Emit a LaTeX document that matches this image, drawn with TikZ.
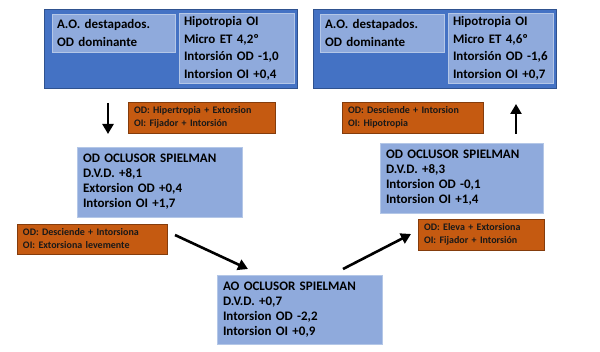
\documentclass[tikz,border=0pt]{standalone}
\usepackage{fontspec}
\setmainfont{Carlito}
\definecolor{AzulOscuro}{RGB}{68,114,196}
\definecolor{AzulBorde}{RGB}{47,82,143}
\definecolor{AzulClaro}{RGB}{143,170,220}
\definecolor{AzulLinea}{RGB}{180,199,231}
\definecolor{Naranja}{RGB}{197,90,17}
\definecolor{NaranjaBorde}{RGB}{132,60,12}
\usetikzlibrary{arrows.meta, positioning}

\begin{document}
\begin{tikzpicture}[x=1pt, y=-1pt,
	marco/.style={rectangle, draw=AzulBorde, thick, fill=AzulOscuro, outer sep=0pt},
	dato/.style={rectangle, draw=AzulLinea, fill=AzulClaro, align=left, inner xsep=5pt,
		outer sep=0pt, font=\fontsize{13}{17.5}\selectfont\bfseries},
	medida/.style={rectangle, draw=AzulLinea, fill=AzulClaro, align=left, inner xsep=6pt,
		outer sep=0pt, minimum height=70pt, font=\fontsize{13}{15}\selectfont\bfseries},
	nota/.style={rectangle, draw=NaranjaBorde, fill=Naranja, align=left, inner xsep=6pt,
		outer sep=0pt, minimum height=31pt, text=black!90,
		font=\fontsize{10}{13}\selectfont\bfseries},
	fl/.style={-{Triangle[length=10pt, width=11pt]}, line width=2.6pt, black}]

	\useasboundingbox (0,0) rectangle (600,352);

	% situacion inicial y final
	\node[marco, minimum width=253pt, minimum height=79pt] (ini) at (170.5,48.5) {};
	\node[dato, text width=113pt, minimum height=38pt] (inia) at (113.5,33) {A.O. destapados.\\OD dominante};
	\node[dato, text width=105pt, minimum height=69pt] (inib) at (236.5,48.5)
		{Hipotropia OI\\Micro ET 4,2º\\Intorsión OD -1,0\\Intorsion OI +0,4};

	\node[marco, minimum width=243pt, minimum height=79pt] (fin) at (434.5,48.5) {};
	\node[dato, text width=114pt, minimum height=38pt] (fina) at (382,33) {A.O. destapados.\\OD dominante};
	\node[dato, text width=95pt, minimum height=69pt] (finb) at (500.5,48.5)
		{Hipotropia OI\\Micro ET 4,6º\\Intorsión OD -1,6\\Intorsion OI +0,7};

	% oclusores
	\node[medida, text width=153pt] (od1) at (159.5,182)
		{OD OCLUSOR SPIELMAN\\D.V.D. +8,1\\Extorsion OD +0,4\\Intorsion OI +1,7};
	\node[medida, text width=153pt, minimum height=69pt] (ao) at (299.5,309.5)
		{AO OCLUSOR SPIELMAN\\D.V.D. +0,7\\Intorsion OD -2,2\\Intorsion OI +0,9};
	\node[medida, text width=151pt] (od2) at (461.5,178)
		{OD OCLUSOR SPIELMAN\\D.V.D. +8,3\\Intorsion OD -0,1\\Intorsion OI +1,4};

	% movimientos
	\node[nota, text width=135pt] (n1) at (201.5,117.5) {OD: Hipertropia + Extorsion\\OI: Fijador + Intorsión};
	\node[nota, text width=138pt, minimum height=30pt] (n2) at (92,239) {OD: Desciende + Intorsiona\\OI: Extorsiona levemente};
	\node[nota, text width=114pt] (n3) at (481,234.5) {OD: Eleva + Extorsiona\\OI: Fijador + Intorsión};
	\node[nota, text width=129pt] (n4) at (412.5,117.5) {OD: Desciende + Intorsion\\OI: Hipotropia};

	\coordinate (p1) at (108,103);  \coordinate (q1) at (108,134);
	\coordinate (p2) at (175,235);  \coordinate (q2) at (248,269);
	\coordinate (p3) at (343,269);  \coordinate (q3) at (411,234);
	\coordinate (p4) at (516,134);  \coordinate (q4) at (516,104);

	\draw[fl] (p1) -- (q1);
	\draw[fl] (p2) -- (q2);
	\draw[fl] (p3) -- (q3);
	\draw[fl] (p4) -- (q4);
\end{tikzpicture}
\end{document}
